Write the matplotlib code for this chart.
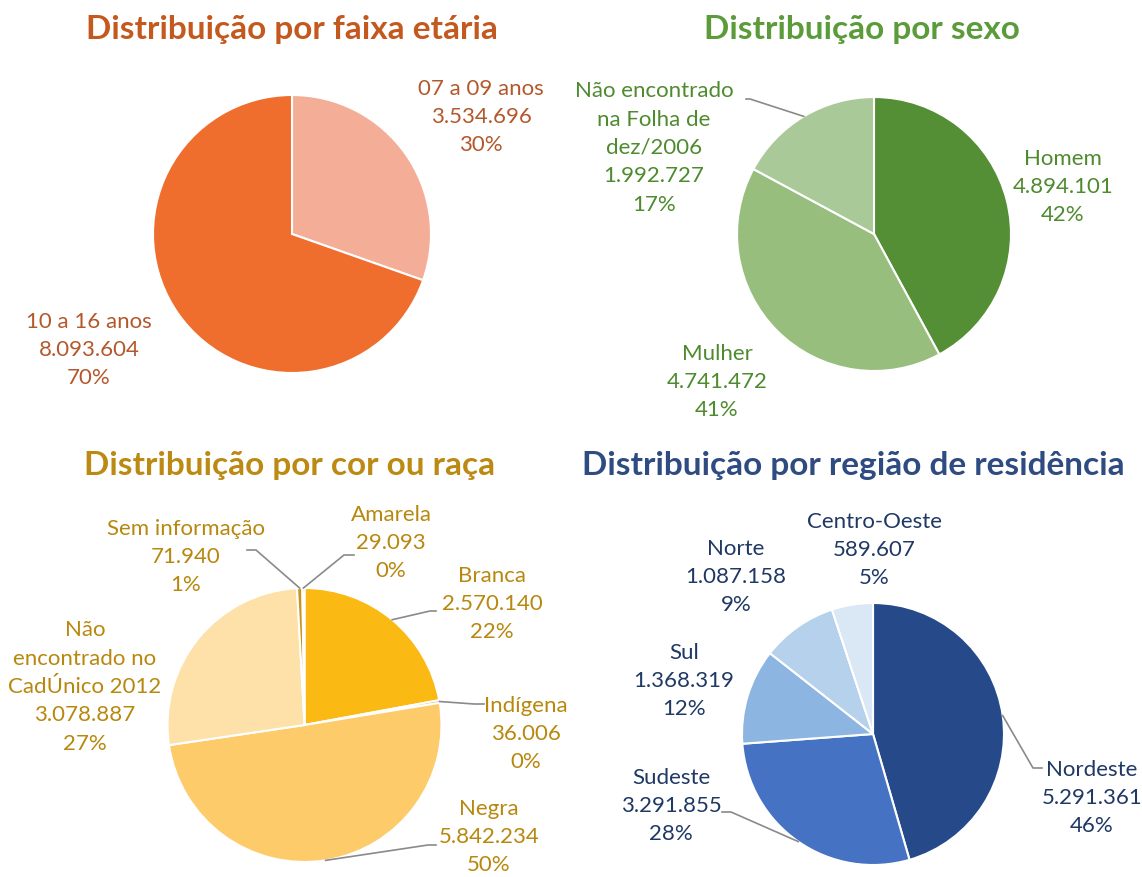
import numpy as np
import matplotlib
matplotlib.use("Agg")
import matplotlib.pyplot as plt

plt.rcParams['font.family'] = ['Lato', 'DejaVu Sans']

W, H = 1142, 877

# --- data ---
idade_labels = ["07 a 09 anos", "10 a 16 anos"]
idade_values = [3534696, 8093604]
idade_pct = [30, 70]

sexo_labels = ["Homem", "Mulher", "Não encontrado\nna Folha de\ndez/2006"]
sexo_values = [4894101, 4741472, 1992727]
sexo_pct = [42, 41, 17]

raca_labels = ["Branca", "Indígena", "Negra", "Não\nencontrado no\nCadÚnico 2012",
               "Sem informação", "Amarela"]
raca_values = [2570140, 36006, 5842234, 3078887, 71940, 29093]
raca_pct = [22, 0, 50, 27, 1, 0]

regiao_labels = ["Nordeste", "Sudeste", "Sul", "Norte", "Centro-Oeste"]
regiao_values = [5291361, 3291855, 1368319, 1087158, 589607]
regiao_pct = [46, 28, 12, 9, 5]


def fmt(v):
    return f"{v:,}".replace(",", ".")


def lbl(name, v, p):
    return f"{name}\n{fmt(v)}\n{p}%"


def edge_point(values, i, cx, cy, r, start=90):
    total = sum(values)
    cum = sum(values[:i]) + values[i] / 2
    a = np.deg2rad(start - 360 * cum / total)
    return cx + r * np.cos(a), (H - cy) + r * np.sin(a)


fig = plt.figure(figsize=(11.42, 8.77), dpi=100)
ax = fig.add_axes([0, 0, 1, 1])

def draw_pie(values, colors, cx, cy, r):
    ax.pie(values, colors=colors, startangle=90, counterclock=False,
           center=(cx, H - cy), radius=r,
           wedgeprops=dict(edgecolor="white", linewidth=1.5))

def put(x, y, s, color, size=16):
    ax.text(x, H - y, s, ha="center", va="center", color=color,
            fontsize=size, linespacing=1.52)

def leader(pts_px, end, color="#8a8a8a"):
    xs = [p[0] for p in pts_px] + [end[0]]
    ys = [H - p[1] for p in pts_px] + [end[1]]
    ax.plot(xs, ys, color=color, lw=1.2, zorder=3)

tsize = 24

# ---- faixa etaria ----
c1 = "#B4582C"
draw_pie(idade_values, ["#F4AE98", "#EF6D2D"], 292, 234, 139)
ax.text(292, H - 30, "Distribuição por faixa etária", ha="center", va="center",
        color="#C4591F", fontsize=tsize, fontweight="bold")
put(481, 117, lbl(idade_labels[0], idade_values[0], idade_pct[0]), c1)
put(89, 350, lbl(idade_labels[1], idade_values[1], idade_pct[1]), c1)

# ---- sexo ----
c2 = "#4E8A2E"
draw_pie(sexo_values, ["#548E35", "#98BE7E", "#A9CA98"], 874, 234, 137)
ax.text(862, H - 30, "Distribuição por sexo", ha="center", va="center",
        color="#5B9B3A", fontsize=tsize, fontweight="bold")
put(1063, 187, lbl(sexo_labels[0], sexo_values[0], sexo_pct[0]), c2)
put(717, 382, lbl(sexo_labels[1], sexo_values[1], sexo_pct[1]), c2)
put(654, 148, lbl(sexo_labels[2], sexo_values[2], sexo_pct[2]), c2)
leader([(746, 99), (750, 99)], edge_point(sexo_values, 2, 874, 234, 137))

# ---- cor ou raca ----
c3 = "#B8880E"
draw_pie(raca_values, ["#FBB913", "#C9951E", "#FECB6B", "#FEE0A9", "#C8931A", "#A0780F"],
         304.5, 725, 137)
ax.text(290, H - 465, "Distribuição por cor ou raça", ha="center", va="center",
        color="#BC8A12", fontsize=tsize, fontweight="bold")
put(492, 604, lbl(raca_labels[0], raca_values[0], raca_pct[0]), c3)
put(526, 734, lbl(raca_labels[1], raca_values[1], raca_pct[1]), c3)
put(489, 837, lbl(raca_labels[2], raca_values[2], raca_pct[2]), c3)
put(85, 687, lbl(raca_labels[3], raca_values[3], raca_pct[3]), c3)
put(186, 557, lbl(raca_labels[4], raca_values[4], raca_pct[4]), c3)
put(391, 543, lbl(raca_labels[5], raca_values[5], raca_pct[5]), c3)
leader([(436, 611), (430, 611)], edge_point(raca_values, 0, 304.5, 725, 137))
leader([(484, 704), (474, 704)], edge_point(raca_values, 1, 304.5, 725, 137))
leader([(436, 845), (428, 845)], edge_point(raca_values, 2, 304.5, 725, 137))
leader([(247, 550), (256, 550)], edge_point(raca_values, 4, 304.5, 725, 137))
leader([(354, 555), (344, 555)], edge_point(raca_values, 5, 304.5, 725, 137))

# ---- regiao ----
c4 = "#1F3864"
draw_pie(regiao_values, ["#264A89", "#4572C3", "#8DB5E1", "#B5D1EB", "#DAE7F5"],
         873, 734, 131)
ax.text(853, H - 465, "Distribuição por região de residência", ha="center", va="center",
        color="#2E4B82", fontsize=tsize, fontweight="bold")
put(1092, 798, lbl(regiao_labels[0], regiao_values[0], regiao_pct[0]), c4)
put(671, 806, lbl(regiao_labels[1], regiao_values[1], regiao_pct[1]), c4)
put(684, 681, lbl(regiao_labels[2], regiao_values[2], regiao_pct[2]), c4)
put(736, 577, lbl(regiao_labels[3], regiao_values[3], regiao_pct[3]), c4)
put(874, 550, lbl(regiao_labels[4], regiao_values[4], regiao_pct[4]), c4)
leader([(1042, 768), (1033, 768)], edge_point(regiao_values, 0, 873, 734, 131))
leader([(722, 812), (731, 812)], edge_point(regiao_values, 1, 873, 734, 131))

ax.set_xlim(0, W)
ax.set_ylim(0, H)
ax.set_aspect("equal")
ax.axis("off")

fig.savefig("out.png", dpi=100, facecolor="white")
